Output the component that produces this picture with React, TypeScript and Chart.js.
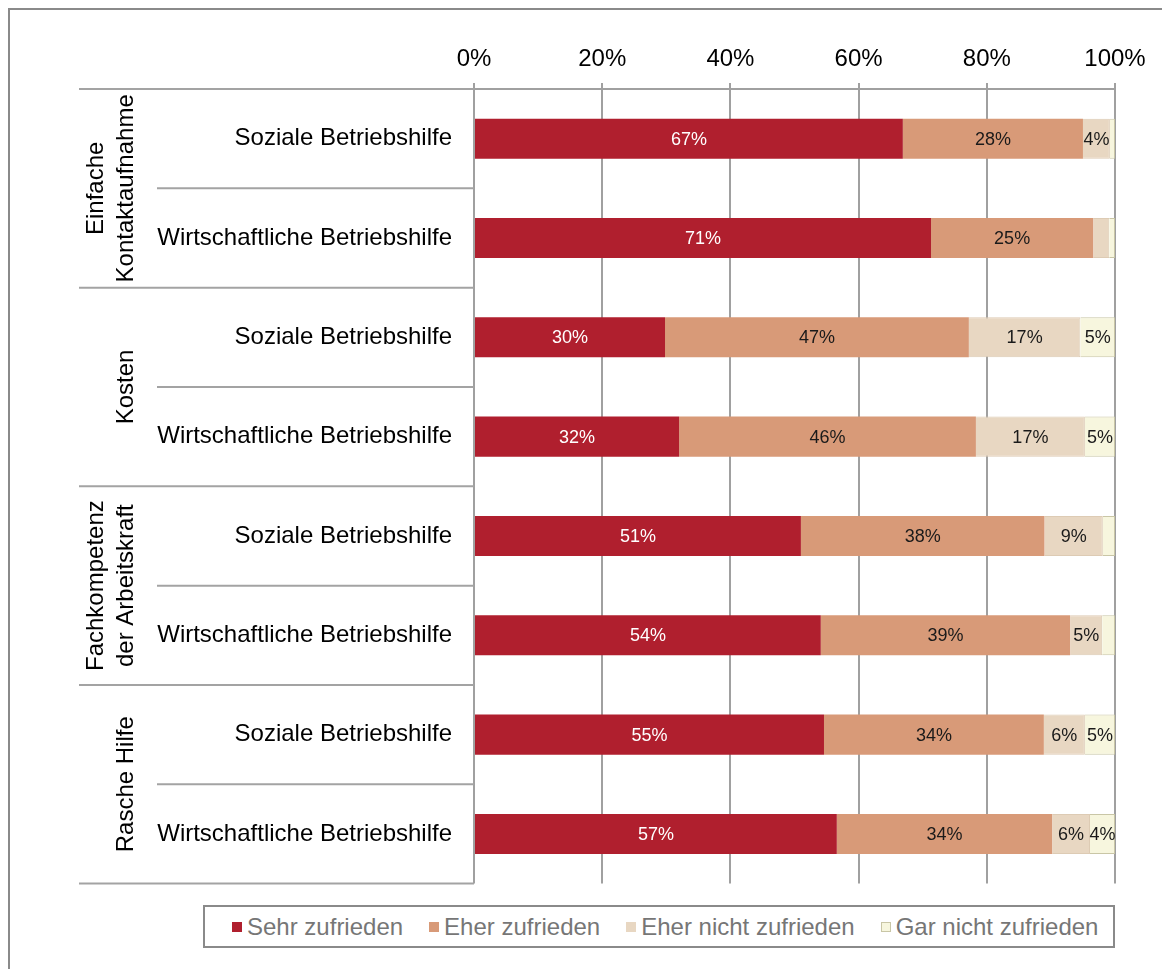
import React, { useEffect, useRef } from "react";
import { Chart, registerables } from "chart.js";
Chart.register(...registerables);

const categories = [
  "Soziale Betriebshilfe",
  "Wirtschaftliche Betriebshilfe",
  "Soziale Betriebshilfe",
  "Wirtschaftliche Betriebshilfe",
  "Soziale Betriebshilfe",
  "Wirtschaftliche Betriebshilfe",
  "Soziale Betriebshilfe",
  "Wirtschaftliche Betriebshilfe",
];
const groupLabels = [
  ["Einfache", "Kontaktaufnahme"],
  ["Kosten"],
  ["Fachkompetenz", "der Arbeitskraft"],
  ["Rasche Hilfe"],
];
const groupSizes = [2, 2, 2, 2];
const seriesNames = ["Sehr zufrieden", "Eher zufrieden", "Eher nicht zufrieden", "Gar nicht zufrieden"];
const sehrZufrieden = [66.9, 71.3, 29.8, 32.0, 51.0, 54.1, 54.6, 56.6];
const eherZufrieden = [28.1, 25.3, 47.4, 46.3, 38.0, 38.9, 34.3, 33.6];
const eherNichtZufrieden = [4.2, 2.5, 17.4, 17.0, 9.1, 5.0, 6.4, 5.9];
const garNichtZufrieden = [0.8, 0.9, 5.4, 4.7, 1.9, 2.0, 4.7, 3.9];
const xTicks = [0, 20, 40, 60, 80, 100];

const seriesColors = ["#B01F2E", "#D89A78", "#E8D7C2", "#F7F6DE"];
const seriesBorders = ["#B01F2E", "#D89A78", "#DDCBB4", "#C9C6A6"];
const labelColors = ["#FFFFFF", "#1A1A1A", "#1A1A1A", "#1A1A1A"];
const FONT = "'Liberation Sans', Arial, sans-serif";

const groupPlugin = {
  id: "groupPlugin",
  afterDraw(chart: any) {
    const ctx = chart.ctx;
    const ys = chart.scales.y;
    const area = chart.chartArea;
    const n = categories.length;
    const bounds: number[] = [];
    for (let i = 0; i <= n; i++) {
      if (i === 0) bounds.push(area.top);
      else if (i === n) bounds.push(area.bottom);
      else bounds.push((ys.getPixelForValue(i - 1) + ys.getPixelForValue(i)) / 2);
    }
    const groupStarts = new Set<number>();
    let acc = 0;
    groupStarts.add(0);
    groupSizes.forEach((s) => {
      acc += s;
      groupStarts.add(acc);
    });
    ctx.save();
    ctx.strokeStyle = "#A3A3A3";
    ctx.lineWidth = 2;
    bounds.forEach((y, i) => {
      const x0 = groupStarts.has(i) ? 69 : 147;
      ctx.beginPath();
      ctx.moveTo(x0, y);
      ctx.lineTo(area.left, y);
      ctx.stroke();
    });
    ctx.fillStyle = "#000";
    ctx.font = `24px ${FONT}`;
    ctx.textAlign = "center";
    ctx.textBaseline = "alphabetic";
    let start = 0;
    groupLabels.forEach((lines, gi) => {
      const end = start + groupSizes[gi];
      const cy = (bounds[start] + bounds[end]) / 2;
      ctx.save();
      ctx.translate(123, cy);
      ctx.rotate(-Math.PI / 2);
      lines.forEach((line, li) => {
        ctx.fillText(line, 0, -(lines.length - 1 - li) * 30);
      });
      ctx.restore();
      start = end;
    });
    ctx.restore();
  },
};

const valueLabelPlugin = {
  id: "valueLabelPlugin",
  afterDatasetsDraw(chart: any) {
    const ctx = chart.ctx;
    ctx.save();
    ctx.font = `18px ${FONT}`;
    ctx.textAlign = "center";
    ctx.textBaseline = "middle";
    chart.data.datasets.forEach((ds: any, di: number) => {
      const meta = chart.getDatasetMeta(di);
      meta.data.forEach((bar: any, i: number) => {
        const v = ds.data[i];
        if (v < 3.5) return;
        ctx.fillStyle = labelColors[di];
        ctx.fillText(Math.round(v) + "%", (bar.x + bar.base) / 2, bar.y + 1);
      });
    });
    ctx.restore();
  },
};

export default function App() {
  const ref = useRef<HTMLCanvasElement>(null);
  useEffect(() => {
    document.documentElement.style.overflow = "hidden";
    const data = [sehrZufrieden, eherZufrieden, eherNichtZufrieden, garNichtZufrieden];
    const chart = new Chart(ref.current as HTMLCanvasElement, {
      type: "bar",
      data: {
        labels: categories,
        datasets: data.map((d, i) => ({
          label: seriesNames[i],
          data: d,
          backgroundColor: seriesColors[i],
          borderColor: seriesBorders[i],
          borderWidth: i >= 2 ? 1 : 0,
          barPercentage: 1,
          categoryPercentage: 0.403,
        })),
      },
      options: {
        indexAxis: "y",
        responsive: false,
        animation: false,
        devicePixelRatio: 1,
        layout: { padding: { left: 0, top: 0, right: 55, bottom: 16 } },
        plugins: { legend: { display: false }, tooltip: { enabled: false } },
        scales: {
          x: {
            position: "top",
            stacked: true,
            min: 0,
            max: 100,
            afterBuildTicks: (s: any) => {
              s.ticks = xTicks.map((v) => ({ value: v }));
            },
            afterFit: (s: any) => {
              s.height = 79;
            },
            ticks: {
              callback: (v: any) => v + "%",
              font: { size: 24, family: FONT },
              color: "#000",
              padding: 9,
              maxRotation: 0,
            },
            grid: { color: "#A0A0A0", lineWidth: 2, tickLength: 6, drawTicks: true },
            border: { display: true, color: "#A0A0A0", width: 2 },
          },
          y: {
            stacked: true,
            afterFit: (s: any) => {
              s.width = 464;
            },
            ticks: { font: { size: 24, family: FONT }, color: "#000", padding: 22 },
            grid: { display: false, drawTicks: false },
            border: { display: false },
          },
        },
      } as any,
      plugins: [groupPlugin, valueLabelPlugin],
    });
    return () => chart.destroy();
  }, []);

  const legendItemStyle: React.CSSProperties = {
    display: "flex",
    alignItems: "center",
    marginRight: 26,
  };
  return (
    <div
      style={{
        position: "relative",
        width: 1160,
        height: 961,
        borderTop: "2px solid #8A8A8A",
        borderLeft: "2px solid #8A8A8A",
        fontFamily: FONT,
      }}
    >
      <canvas ref={ref} width={1160} height={910} style={{ position: "absolute", left: 0, top: 0, width: 1160, height: 910 }} />
      <div
        style={{
          position: "absolute",
          left: 193,
          top: 895,
          width: 881,
          height: 39,
          border: "2px solid #8A8A8A",
          display: "flex",
          alignItems: "center",
          paddingLeft: 27,
          boxSizing: "content-box",
          whiteSpace: "nowrap",
          background: "#fff",
        }}
      >
        {seriesNames.map((name, i) => (
          <div key={name} style={legendItemStyle}>
            <span
              style={{
                display: "inline-block",
                width: 10,
                height: 10,
                background: seriesColors[i],
                border: i === 3 ? "1px solid #C9C6A6" : "none",
                boxSizing: "border-box",
                marginRight: 5,
              }}
            />
            <span style={{ fontSize: 24, color: "#767676" }}>{name}</span>
          </div>
        ))}
      </div>
    </div>
  );
}
